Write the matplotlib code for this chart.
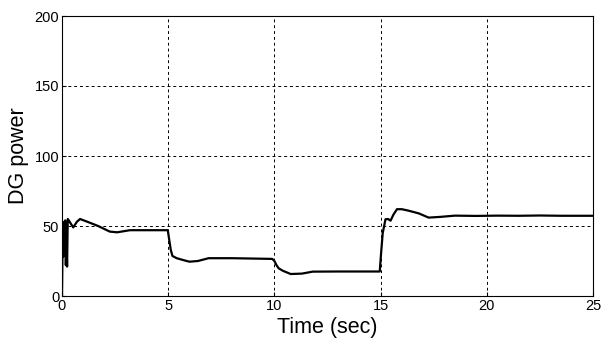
import matplotlib
matplotlib.use("Agg")
import matplotlib.pyplot as plt

plt.rcParams['font.family'] = ['Liberation Sans', 'DejaVu Sans']

# DG power trace
time_s = [0.0, 0.04, 0.06, 0.09, 0.12, 0.15, 0.18, 0.21, 0.24, 0.27, 0.32,
          0.4, 0.53, 0.7, 0.85, 1.2, 1.7, 2.25, 2.6, 3.2, 4.0, 4.98,
          5.05, 5.12, 5.2, 5.4, 5.7, 6.0, 6.4, 6.9, 8.0, 9.9,
          10.0, 10.1, 10.2, 10.4, 10.77, 11.3, 11.8, 13.0, 14.96,
          15.02, 15.1, 15.23, 15.35, 15.47, 15.6, 15.77, 16.0, 16.3,
          16.8, 17.26, 17.8, 18.5, 19.5, 20.5, 21.5, 22.5, 23.5, 25.0]
power = [0.0, 53, 28, 52, 30, 54, 22, 40, 21, 55, 54,
         52, 49, 53, 55, 53, 50, 46, 45.5, 47, 47, 47,
         40, 33, 28.6, 27, 25.7, 24.5, 25, 27, 27, 26.5,
         25, 22, 19.8, 18, 15.7, 16, 17.4, 17.5, 17.5,
         30, 45, 54.8, 55, 53.8, 58, 62, 62, 61,
         59, 56, 56.5, 57.4, 57.2, 57.4, 57.3, 57.5, 57.3, 57.3]

x_ticks = [0, 5, 10, 15, 20, 25]
y_ticks = [0, 50, 100, 150, 200]

fig = plt.figure(figsize=(6.01, 3.40), dpi=100)
ax = fig.add_axes([62 / 601, 44 / 340, 531 / 601, 280 / 340])

ax.plot(time_s, power, color='black', linewidth=1.6)

ax.set_xlim(0, 25)
ax.set_ylim(0, 200)
ax.set_xticks(x_ticks)
ax.set_yticks(y_ticks)
ax.grid(True, color='black', linestyle=(0, (3, 3)), linewidth=0.7)
ax.tick_params(direction='in', labelsize=10.5, length=3, pad=2)
for s in ax.spines.values():
    s.set_linewidth(0.8)

ax.set_xlabel('Time (sec)', fontsize=15.5, labelpad=3)
ax.set_ylabel('DG power', fontsize=15.5, labelpad=4)

fig.savefig('out.png', dpi=100)
